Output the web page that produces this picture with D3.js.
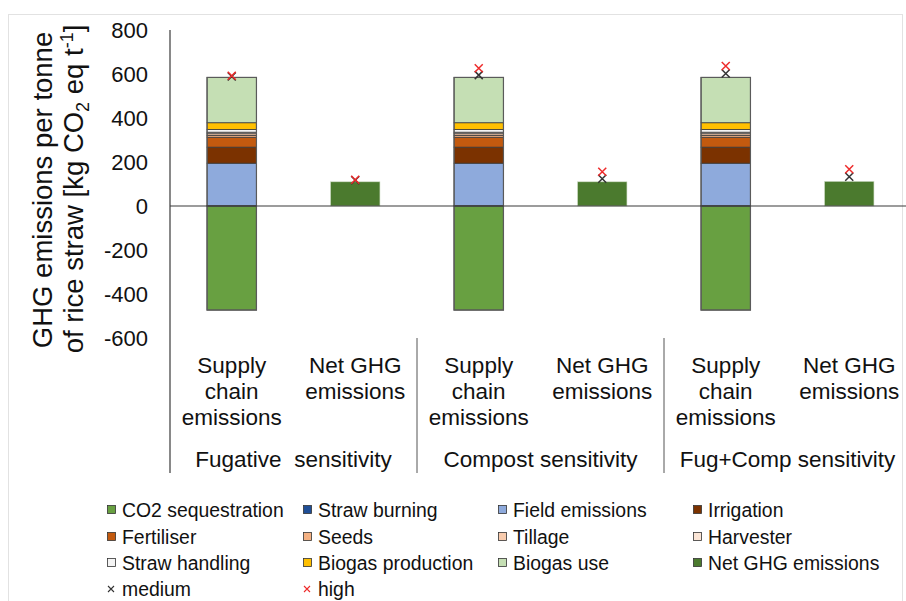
<!DOCTYPE html>
<meta charset="utf-8">
<script src="https://d3js.org/d3.v7.min.js"></script>
<style>
  body { margin: 0; background: #fff; }
  text { font-family: "Liberation Sans", Arial, sans-serif; fill: #111; }
</style>
<div id="my_dataviz"></div>
<script>

// categories (bars) and groups
var bars = ["sc1", "net1", "sc2", "net2", "sc3", "net3"];
var barKind = ["supply", "net", "supply", "net", "supply", "net"];
var groups = ["Fugative  sensitivity", "Compost sensitivity", "Fug+Comp sensitivity"];

// stacked supply chain components (same in each scenario)
var layers = ["Straw burning", "Field emissions", "Irrigation", "Fertiliser", "Seeds",
              "Tillage", "Harvester", "Straw handling", "Biogas production", "Biogas use"];
var layerValues = [1.5, 193, 73, 45, 8, 8, 7, 12, 31, 206];
var sequestration = [-473, -473, -473];
var netValues = [110, 110, 112];

// sensitivity markers (one per bar)
var medium = [589, 117, 595, 124, 602, 133];
var high = [592, 119, 626, 156, 636, 167];

var yTicks = [-600, -400, -200, 0, 200, 400, 600, 800];

var colors = {
  "CO2 sequestration": "#68a041",
  "Straw burning": "#1f4e96",
  "Field emissions": "#8eaadc",
  "Irrigation": "#7b3200",
  "Fertiliser": "#c35a0f",
  "Seeds": "#f4b183",
  "Tillage": "#f8cbad",
  "Harvester": "#fbe5d6",
  "Straw handling": "#f4f4f4",
  "Biogas production": "#ffc000",
  "Biogas use": "#c5dfb4",
  "Net GHG emissions": "#4b7a2e"
};

var width = 906, height = 601;

var svg = d3.select("#my_dataviz")
  .append("svg")
    .attr("width", width)
    .attr("height", height);

// light frame around the chart
svg.append("rect")
  .attr("x", 8.5).attr("y", 14.5)
  .attr("width", 894).attr("height", 600)
  .attr("fill", "none")
  .attr("stroke", "#e2e2e2");

var x = d3.scaleBand()
  .domain(bars)
  .range([170, 911])
  .paddingInner(0.6)
  .paddingOuter(0.3);

var y = d3.scaleLinear()
  .domain([-600, 800])
  .range([338, 30]);

// tick labels
svg.selectAll(".ytick")
  .data(yTicks)
  .enter().append("text")
    .attr("x", 148)
    .attr("y", function(d) { return y(d); })
    .attr("dy", "0.36em")
    .attr("text-anchor", "end")
    .style("font-size", "22px")
    .text(function(d) { return d; });

// y title
var title = svg.append("g");
title.append("text")
  .attr("transform", "translate(52,190) rotate(-90)")
  .attr("text-anchor", "middle")
  .style("font-size", "27.5px")
  .text("GHG emissions per tonne");
var t2 = title.append("text")
  .attr("transform", "translate(83,189) rotate(-90)")
  .attr("text-anchor", "middle")
  .style("font-size", "27.5px");
t2.append("tspan").text("of rice straw [kg CO");
t2.append("tspan").attr("dy", 6).style("font-size", "18px").text("2");
t2.append("tspan").attr("dy", -6).text(" eq t");
t2.append("tspan").attr("dy", -10).style("font-size", "18px").text("-1");
t2.append("tspan").attr("dy", 10).text("]");

// stacked supply chain bars
var supplyBars = bars.filter(function(d, i) { return barKind[i] === "supply"; });
supplyBars.forEach(function(b, k) {
  var g = svg.append("g");
  g.append("rect")
    .attr("x", x(b))
    .attr("y", y(0))
    .attr("width", x.bandwidth())
    .attr("height", y(sequestration[k]) - y(0))
    .attr("fill", colors["CO2 sequestration"])
    .attr("stroke", "#555").attr("stroke-width", 1);
  var base = 0;
  layerValues.forEach(function(v, j) {
    g.append("rect")
      .attr("x", x(b))
      .attr("y", y(base + v))
      .attr("width", x.bandwidth())
      .attr("height", y(base) - y(base + v))
      .attr("fill", colors[layers[j]])
      .attr("stroke", "#3a3a3a").attr("stroke-width", 0.8);
    base += v;
  });
  // outline
  g.append("rect")
    .attr("x", x(b))
    .attr("y", y(base))
    .attr("width", x.bandwidth())
    .attr("height", y(sequestration[k]) - y(base))
    .attr("fill", "none")
    .attr("stroke", "#5a5a5a").attr("stroke-width", 1.2);
});

// net bars
var netBars = bars.filter(function(d, i) { return barKind[i] === "net"; });
svg.selectAll(".net")
  .data(netValues)
  .enter().append("rect")
    .attr("x", function(d, i) { return x(netBars[i]); })
    .attr("y", function(d) { return y(d); })
    .attr("width", x.bandwidth())
    .attr("height", function(d) { return y(0) - y(d); })
    .attr("fill", colors["Net GHG emissions"])
    .attr("stroke", "#cfdcc6").attr("stroke-width", 0.6);

// zero line and axis
svg.append("line")
  .attr("x1", 170).attr("x2", 906)
  .attr("y1", y(0)).attr("y2", y(0))
  .attr("stroke", "#3a3a3a").attr("stroke-width", 1.2);
svg.append("line")
  .attr("x1", 170).attr("x2", 170)
  .attr("y1", y(800)).attr("y2", 473)
  .attr("stroke", "#3a3a3a").attr("stroke-width", 1.2);

// group separators
[2, 4].forEach(function(i) {
  var sx = x.range()[0] + i * x.step();
  svg.append("line")
    .attr("x1", sx).attr("x2", sx)
    .attr("y1", 338).attr("y2", 473)
    .attr("stroke", "#555").attr("stroke-width", 1);
});

// crosses
function cross(sel, cx, cy, r, color, w) {
  sel.append("path")
    .attr("d", "M" + (cx - r) + "," + (cy - r) + "L" + (cx + r) + "," + (cy + r) +
               "M" + (cx - r) + "," + (cy + r) + "L" + (cx + r) + "," + (cy - r))
    .attr("stroke", color).attr("stroke-width", w).attr("fill", "none");
}
bars.forEach(function(b, i) {
  var cx = x(b) + x.bandwidth() / 2;
  cross(svg, cx, y(medium[i]), 4, "#333", 1.5);
  cross(svg, cx, y(high[i]), 4, "#ee2a2a", 1.5);
});

// category labels
var catLabels = {
  supply: ["Supply", "chain", "emissions"],
  net: ["Net GHG", "emissions"]
};
bars.forEach(function(b, i) {
  var t = svg.append("text")
    .attr("text-anchor", "middle")
    .style("font-size", "22.5px");
  catLabels[barKind[i]].forEach(function(line, j) {
    t.append("tspan")
      .attr("x", x(b) + x.bandwidth() / 2)
      .attr("y", 373 + j * 26)
      .text(line);
  });
});

// group labels
groups.forEach(function(gname, k) {
  svg.append("text")
    .attr("x", x.range()[0] + (2 * k + 1) * x.step())
    .attr("y", 467)
    .attr("text-anchor", "middle")
    .style("font-size", "22.5px")
    .style("white-space", "pre")
    .text(gname);
});

// legend
var legendItems = ["CO2 sequestration", "Straw burning", "Field emissions", "Irrigation",
                   "Fertiliser", "Seeds", "Tillage", "Harvester",
                   "Straw handling", "Biogas production", "Biogas use", "Net GHG emissions",
                   "medium", "high"];
var legendCols = [107, 303, 498, 693];
var legendRows = [510, 537, 563, 589];
legendItems.forEach(function(name, i) {
  var lx = legendCols[i % 4], ly = legendRows[Math.floor(i / 4)];
  if (name === "medium" || name === "high") {
    cross(svg, lx + 4, ly, 3, name === "medium" ? "#333" : "#ee2a2a", 1.1);
  } else {
    svg.append("rect")
      .attr("x", lx + 0.5).attr("y", ly - 4.5)
      .attr("width", 8).attr("height", 8)
      .attr("fill", colors[name])
      .attr("stroke", "#333").attr("stroke-width", 0.8);
  }
  svg.append("text")
    .attr("x", lx + 15)
    .attr("y", ly)
    .attr("dy", "0.36em")
    .style("font-size", "19.4px")
    .text(name);
});

</script>
